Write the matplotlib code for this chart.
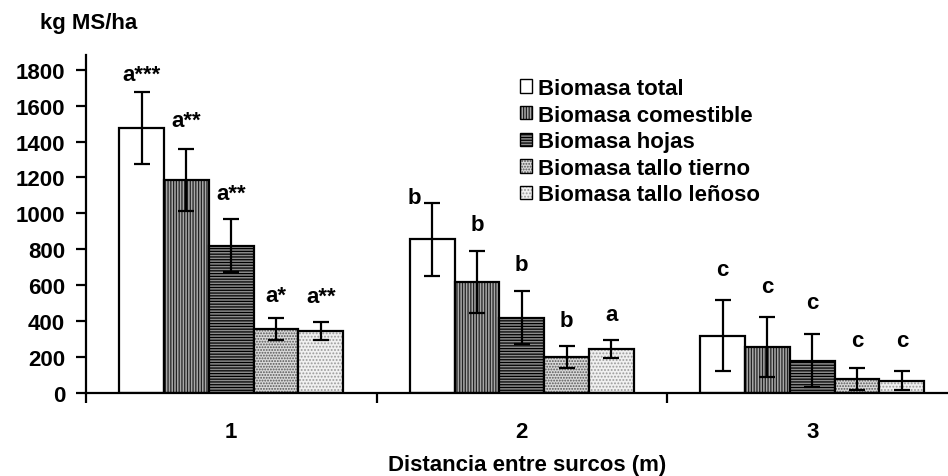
import matplotlib
matplotlib.use("Agg")
import matplotlib.pyplot as plt
import numpy as np

# ---------------- data ----------------
categories = ["1", "2", "3"]
series_names = ["Biomasa total", "Biomasa comestible", "Biomasa hojas",
                "Biomasa tallo tierno", "Biomasa tallo leñoso"]
# values per series, for categories 1, 2, 3
total      = [1475, 855, 320]
comestible = [1188, 620, 256]
hojas      = [820, 420, 180]
tierno     = [356, 199, 78]
lenoso     = [347, 245, 69]
# error (+/-)
err_total      = [200, 201, 200]
err_comestible = [173, 172, 165]
err_hojas      = [148, 148, 148]
err_tierno     = [60, 60, 63]
err_lenoso     = [50, 48, 51]
# significance letters
lab_total      = ["a***", "b", "c"]
lab_comestible = ["a**", "b", "c"]
lab_hojas      = ["a**", "b", "c"]
lab_tierno     = ["a*", "b", "c"]
lab_lenoso     = ["a**", "a", "c"]
yticks = [0, 200, 400, 600, 800, 1000, 1200, 1400, 1600, 1800]

values = [total, comestible, hojas, tierno, lenoso]
errors = [err_total, err_comestible, err_hojas, err_tierno, err_lenoso]
labels = [lab_total, lab_comestible, lab_hojas, lab_tierno, lab_lenoso]

# ---------------- style ----------------
FONT = "Liberation Sans"
plt.rcParams["font.family"] = [FONT, "DejaVu Sans"]
plt.rcParams["font.weight"] = "bold"
plt.rcParams["hatch.linewidth"] = 0.9
FS = 16

faces = ["white", "#a8a8a8", "#8c8c8c", "#d9d9d9", "#f0f0f0"]
hatches = [None, "||||||", "------", "......", "....."]
hatch_cols = ["black", "#222222", "black", "#555555", "#9a9a9a"]

# label offsets (pixels) above error-bar tops, [series][category]
lab_dy = [[18, 6, 30], [28, 26, 31], [26, 26, 32], [23, 26, 27], [25, 26, 31]]
lab_dx = [[0, -18, 0], [0, 0, 0], [0, 0, 0], [0, 0, 0], [0, 0, 0]]

W, H = 948, 477
fig = plt.figure(figsize=(W / 100, H / 100), dpi=100)
ax_left, ax_bottom = 86 / W, 83 / H
ax_w = (W - 86) / W
ymax = 1880
px_per_unit = 323.3 / 1800
ax_h = ymax * px_per_unit / H
ax = fig.add_axes([ax_left, ax_bottom, ax_w, ax_h])

cat_px = 290.5
xmax = 0.5 + (W - 86) / cat_px
bar_w = 44.8 / cat_px
x = np.arange(1, len(categories) + 1)
n = len(series_names)

for i in range(n):
    xi = x + (i - (n - 1) / 2) * bar_w
    bars = ax.bar(xi, values[i], width=bar_w, facecolor=faces[i],
                  edgecolor="black", linewidth=1.6, label=series_names[i],
                  zorder=2)
    if hatches[i]:
        for b in bars:
            b.set_hatch(hatches[i])
            b._hatch_color = matplotlib.colors.to_rgba(hatch_cols[i])
    ax.errorbar(xi, values[i], yerr=errors[i], fmt="none", ecolor="black",
                elinewidth=1.6, capsize=5.8, capthick=1.6, zorder=3)
    for j in range(len(categories)):
        ytop = values[i][j] + errors[i][j]
        ax.annotate(labels[i][j], xy=(xi[j], ytop),
                    xytext=(lab_dx[i][j] * 0.72, lab_dy[i][j] * 0.72),
                    textcoords="offset points", ha="center", va="center",
                    fontsize=FS, fontweight="bold", zorder=4)

ax.set_xlim(0.5, xmax)
ax.set_ylim(0, ymax)
ax.set_yticks(yticks)
ax.set_yticklabels([str(v) for v in yticks], fontsize=FS, fontweight="bold")
ax.set_xticks(x)
ax.set_xticklabels(categories, fontsize=FS, fontweight="bold")
ax.tick_params(axis="x", which="major", length=0, pad=20)
ax.set_xticks([0.5, 1.5, 2.5], minor=True)
ax.tick_params(axis="x", which="minor", length=7, width=1.6, direction="out")
ax.tick_params(axis="y", length=7, width=1.6, direction="out", pad=8)
for s in ["top", "right"]:
    ax.spines[s].set_visible(False)
for s in ["left", "bottom"]:
    ax.spines[s].set_linewidth(1.6)

fig.text(40 / W, 1 - 23 / H, "kg MS/ha", fontsize=FS, fontweight="bold",
         ha="left", va="center")
fig.text(527 / W, 1 - 466 / H, "Distancia entre surcos (m)", fontsize=FS,
         fontweight="bold", ha="center", va="center")

leg = ax.legend(loc="upper left", bbox_to_anchor=(520 / W, 1 - 79 / H),
                bbox_transform=fig.transFigure, frameon=False,
                prop={"family": FONT, "weight": "bold", "size": FS},
                handlelength=0.55, handleheight=0.55, handletextpad=0.25,
                labelspacing=0.25, borderpad=0, borderaxespad=0)
for h in leg.legend_handles:
    h.set_linewidth(1.0)

fig.savefig("out.png", dpi=100)
